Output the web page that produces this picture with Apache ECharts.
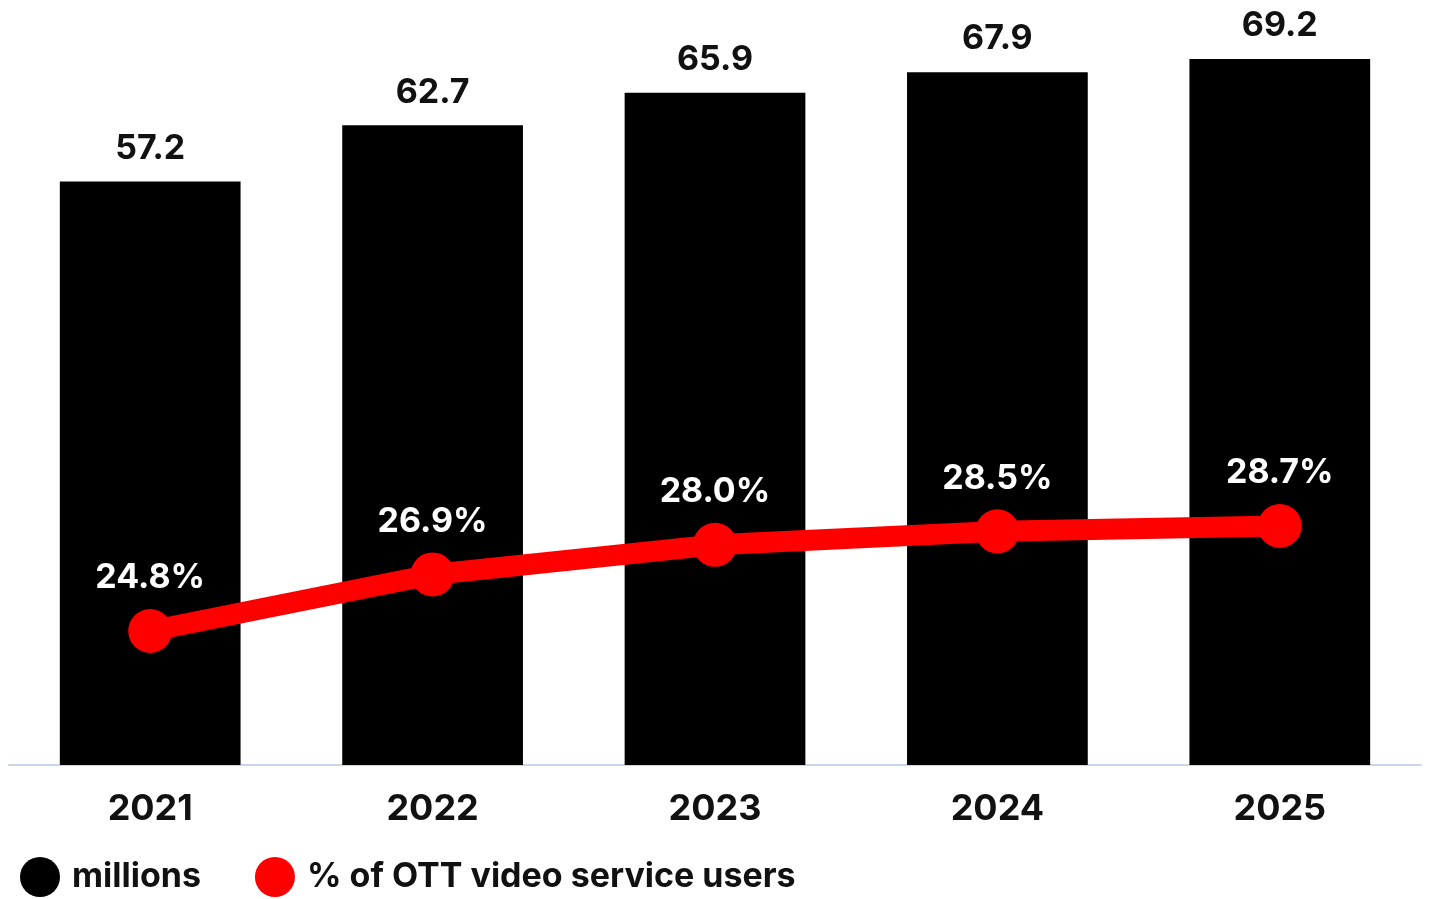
<!DOCTYPE html>
<html>
<head>
<meta charset="utf-8">
<script src="https://cdn.jsdelivr.net/npm/echarts@6/dist/echarts.min.js"></script>
<style>
html,body{margin:0;padding:0;background:#fff;}
#main{width:1429px;height:899px;}
</style>
</head>
<body>
<div id="main"></div>
<script>
const years = ['2021', '2022', '2023', '2024', '2025'];
const millions = [57.2, 62.7, 65.9, 67.9, 69.2];
const pctUsers = [24.8, 26.9, 28.0, 28.5, 28.7];
const seriesNames = ['millions', '% of OTT video service users'];

const FONT = 'Inter, "Noto Sans", sans-serif';
const chart = echarts.init(document.getElementById('main'), null, {renderer: 'canvas'});
chart.setOption({
  animation: false,
  backgroundColor: '#ffffff',
  textStyle: {fontFamily: FONT},
  grid: {left: 9, right: 8, top: 10, bottom: 134, containLabel: false},
  legend: {
    left: 20, top: 857, padding: 0,
    icon: 'circle', itemWidth: 40, itemHeight: 40, itemGap: 54,
    textStyle: {fontFamily: FONT, fontSize: 34, fontWeight: 'bold', color: '#111', padding: [0, 0, 0, 7]},
    data: seriesNames
  },
  xAxis: {
    type: 'category', data: years,
    axisLine: {show: true, lineStyle: {color: '#c9d5ea', width: 2}},
    axisTick: {show: false},
    axisLabel: {fontFamily: FONT, fontSize: 36, fontWeight: 'bold', color: '#111', margin: 26}
  },
  yAxis: [
    {type: 'value', min: 0, max: 74, show: false, splitLine: {show: false}},
    {type: 'value', min: 19.82, max: 47.87, show: false, splitLine: {show: false}}
  ],
  series: [
    {
      name: seriesNames[0], type: 'bar', data: millions, yAxisIndex: 0,
      barCategoryGap: '36%',
      itemStyle: {color: '#000000'},
      label: {show: true, position: 'top', distance: 16, fontFamily: FONT, fontSize: 34, fontWeight: 'bold', color: '#111',
        formatter: p => p.value.toFixed(1)}
    },
    {
      name: seriesNames[1], type: 'line', data: pctUsers, yAxisIndex: 1,
      symbol: 'circle', symbolSize: 44,
      lineStyle: {color: '#ff0000', width: 21},
      itemStyle: {color: '#ff0000'},
      label: {show: true, position: 'top', distance: 14, fontFamily: FONT, fontSize: 34, fontWeight: 'bold', color: '#ffffff',
        formatter: p => p.value.toFixed(1) + '%'}
    }
  ]
});
</script>
</body>
</html>
